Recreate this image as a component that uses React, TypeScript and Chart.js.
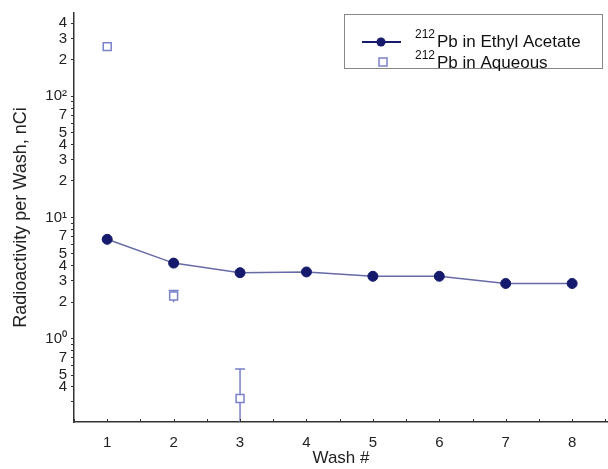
import React, { useEffect, useRef } from "react";
import { Chart, registerables } from "chart.js";

Chart.register(...registerables);

// ---- data ----
const washes = [1, 2, 3, 4, 5, 6, 7, 8];
const ethylAcetate = [6.6, 4.2, 3.5, 3.55, 3.27, 3.27, 2.85, 2.85];
const aqueousWashes = [1, 2, 3];
const aqueous = [257, 2.25, 0.32];
const aqueousErr = [0, 0.25, 0.24];

const xTickValues = [0.5, 1, 1.5, 2, 2.5, 3, 3.5, 4, 4.5, 5, 5.5, 6, 6.5, 7, 7.5, 8, 8.5];
const xLabelValues = [1, 2, 3, 4, 5, 6, 7, 8];

const yMinorTickValues = [
  0.3, 0.4, 0.5, 0.6, 0.7, 0.8, 0.9,
  1, 2, 3, 4, 5, 6, 7, 8, 9,
  10, 20, 30, 40, 50, 60, 70, 80, 90,
  100, 200, 300, 400,
];
const yLabelValues = [0.4, 0.5, 0.7, 1, 2, 3, 4, 5, 7, 10, 20, 30, 40, 50, 70, 100, 200, 300, 400];
const yLabelTexts = ["4", "5", "7", "10⁰", "2", "3", "4", "5", "7", "10¹", "2", "3", "4", "5", "7", "10²", "2", "3", "4"];

const seriesNames = ["Pb in Ethyl Acetate", "Pb in Aqueous"];
const seriesIsotope = "212";

const NAVY = "#151a6c";
const LINE = "#666ba6";
const AQ = "#7a81c8";
const FONT = "'Liberation Sans', Arial, sans-serif";

const errorBarPlugin = {
  id: "errorBars",
  afterDatasetsDraw(chart: any) {
    const { ctx, chartArea, scales } = chart;
    const xs = scales.x;
    const ys = scales.y;
    ctx.save();
    ctx.beginPath();
    ctx.rect(chartArea.left, chartArea.top, chartArea.right - chartArea.left, chartArea.bottom - chartArea.top);
    ctx.clip();
    ctx.strokeStyle = AQ;
    ctx.lineWidth = 1.5;
    aqueousWashes.forEach((w, i) => {
      const e = aqueousErr[i];
      if (!e) return;
      const px = xs.getPixelForValue(w);
      const top = ys.getPixelForValue(aqueous[i] + e);
      const lowV = aqueous[i] - e;
      const bot = lowV > 0 ? ys.getPixelForValue(lowV) : chartArea.bottom + 10;
      const cy = ys.getPixelForValue(aqueous[i]);
      ctx.beginPath();
      ctx.moveTo(px, top);
      ctx.lineTo(px, cy - 4);
      ctx.moveTo(px, cy + 4);
      ctx.lineTo(px, bot);
      ctx.moveTo(px - 5, top);
      ctx.lineTo(px + 5, top);
      ctx.stroke();
    });
    ctx.restore();
  },
};

const xInnerTicksPlugin = {
  id: "xInnerTicks",
  afterDraw(chart: any) {
    const { ctx, scales, chartArea } = chart;
    const xs = scales.x;
    ctx.save();
    ctx.strokeStyle = "#333";
    ctx.lineWidth = 1;
    xTickValues.forEach((v) => {
      const px = Math.round(xs.getPixelForValue(v)) + 0.5;
      ctx.beginPath();
      ctx.moveTo(px, chartArea.bottom);
      ctx.lineTo(px, chartArea.bottom - 3);
      ctx.stroke();
    });
    ctx.restore();
  },
};

const legendPlugin = {
  id: "customLegend",
  afterDraw(chart: any) {
    const { ctx } = chart;
    ctx.save();
    ctx.fillStyle = "#fff";
    ctx.fillRect(344.5, 14.5, 258, 54);
    ctx.strokeStyle = "#888";
    ctx.lineWidth = 1;
    ctx.strokeRect(344.5, 14.5, 258, 54);

    // row 1
    ctx.strokeStyle = NAVY;
    ctx.lineWidth = 2;
    ctx.beginPath();
    ctx.moveTo(362, 42);
    ctx.lineTo(401, 42);
    ctx.stroke();
    ctx.fillStyle = NAVY;
    ctx.beginPath();
    ctx.arc(381, 42, 4.5, 0, Math.PI * 2);
    ctx.fill();

    // row 2
    ctx.strokeStyle = AQ;
    ctx.lineWidth = 1.5;
    ctx.fillStyle = "#fff";
    ctx.fillRect(379, 58, 8, 8);
    ctx.strokeRect(379, 58, 8, 8);

    ctx.fillStyle = "#111";
    ctx.textBaseline = "middle";
    ctx.textAlign = "left";
    const rows = [42, 63];
    seriesNames.forEach((name, i) => {
      ctx.font = `12px ${FONT}`;
      ctx.fillText(seriesIsotope, 415, rows[i] - 7);
      const w = ctx.measureText(seriesIsotope).width;
      ctx.font = `17px ${FONT}`;
      ctx.fillText(name, 415 + w + 2, rows[i]);
    });
    ctx.restore();
  },
};

export default function App() {
  const ref = useRef<HTMLCanvasElement>(null);
  useEffect(() => {
    if (!ref.current) return;
    const chart = new Chart(ref.current, {
      type: "scatter",
      data: {
        datasets: [
          {
            label: seriesIsotope + seriesNames[0],
            data: washes.map((x, i) => ({ x, y: ethylAcetate[i] })),
            showLine: true,
            borderColor: LINE,
            borderWidth: 1.5,
            pointRadius: 5,
            pointBackgroundColor: NAVY,
            pointBorderColor: NAVY,
            pointBorderWidth: 1,
          },
          {
            label: seriesIsotope + seriesNames[1],
            data: aqueousWashes.map((x, i) => ({ x, y: aqueous[i] })),
            showLine: false,
            pointStyle: "rect",
            pointRadius: 5.6,
            pointBackgroundColor: "#fff",
            pointBorderColor: AQ,
            pointBorderWidth: 1.5,
          },
        ],
      },
      options: {
        animation: false,
        responsive: false,
        layout: { autoPadding: false, padding: { top: 12, right: 0, left: 0, bottom: 0 } },
        plugins: { legend: { display: false }, tooltip: { enabled: false } },
        scales: {
          x: {
            type: "linear",
            min: 0.5,
            max: 8.54,
            afterBuildTicks: (scale: any) => {
              scale.ticks = xTickValues.map((v) => ({ value: v }));
            },
            afterFit: (scale: any) => {
              scale.height = 47;
              scale.paddingLeft = 0;
              scale.paddingRight = 0;
            },
            ticks: {
              autoSkip: false,
              maxRotation: 0,
              padding: 12,
              color: "#222",
              font: { family: FONT, size: 15 },
              callback: (v: any) => (xLabelValues.includes(Number(v)) ? String(v) : ""),
            },
            grid: { drawOnChartArea: false, drawTicks: false },
            border: { display: true, color: "#333", width: 1.5 },
            title: {
              display: true,
              text: "Wash #",
              color: "#222",
              font: { family: FONT, size: 17 },
              padding: { top: 0, bottom: 0 },
            },
          },
          y: {
            type: "logarithmic",
            min: 0.205,
            max: 487,
            afterBuildTicks: (scale: any) => {
              scale.ticks = yMinorTickValues.map((v) => ({ value: v }));
            },
            afterFit: (scale: any) => {
              scale.width = 74;
            },
            ticks: {
              autoSkip: false,
              padding: 4,
              color: "#222",
              font: { family: FONT, size: 15 },
              callback: (v: any) => {
                const idx = yLabelValues.findIndex((t) => Math.abs(t - Number(v)) / t < 1e-6);
                return idx >= 0 ? yLabelTexts[idx] : "";
              },
            },
            grid: { drawOnChartArea: false, drawTicks: true, tickLength: 3, color: "#333" },
            border: { display: true, color: "#333", width: 1.5 },
            title: {
              display: true,
              text: "Radioactivity per Wash, nCi",
              color: "#222",
              font: { family: FONT, size: 18 },
              padding: { top: 10, bottom: 0 },
            },
          },
        },
      },
      plugins: [errorBarPlugin, xInnerTicksPlugin, legendPlugin],
    });
    return () => chart.destroy();
  }, []);
  return (
    <div style={{ position: "fixed", left: 0, top: 0, width: 608, height: 469, background: "#fff" }}>
      <canvas ref={ref} width={608} height={469} />
    </div>
  );
}
